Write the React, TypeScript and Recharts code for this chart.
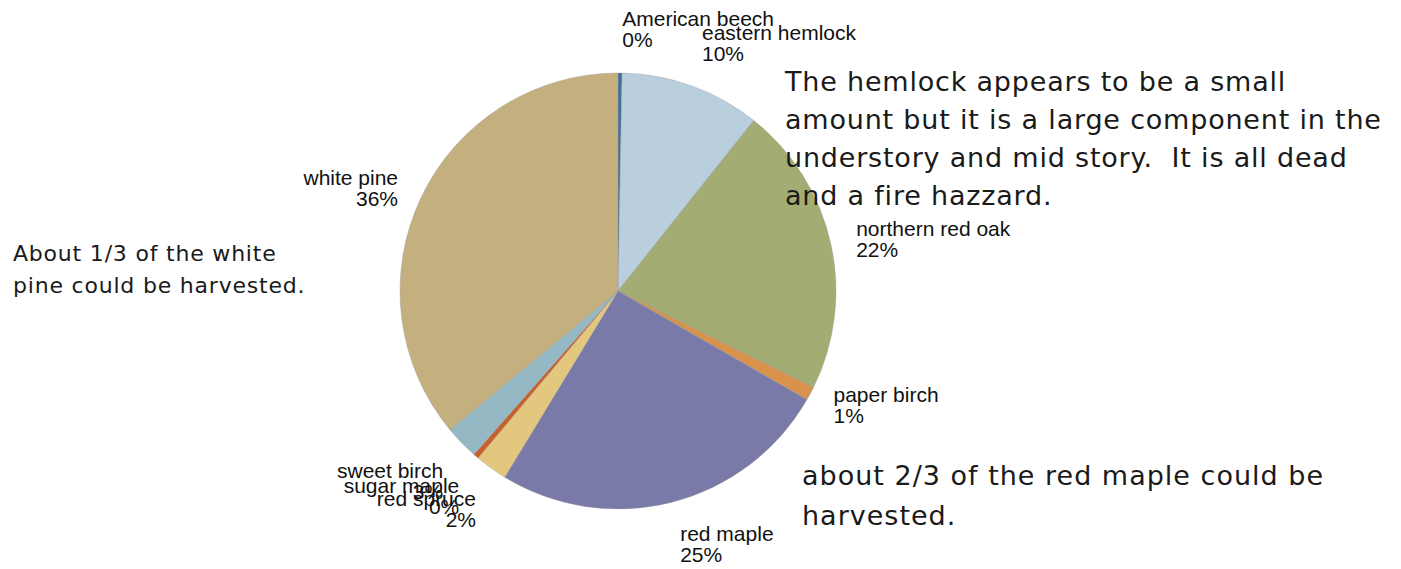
import { PieChart, Pie, Cell } from "recharts";

const species = [
  "American beech",
  "eastern hemlock",
  "northern red oak",
  "paper birch",
  "red maple",
  "red spruce",
  "sugar maple",
  "sweet birch",
  "white pine",
];
const shares = [0.3, 10.4, 21.6, 1.0, 25.4, 2.4, 0.4, 2.5, 36.0];
const colors = [
  "#3f7097",
  "#b9cfdd",
  "#a3ac72",
  "#d8924a",
  "#7a7aa9",
  "#e3c77f",
  "#c8602a",
  "#94b8c4",
  "#c4b07e",
];

const noteHemlock = [
  "The hemlock appears to be a small",
  "amount but it is a large component in the",
  "understory and mid story.  It is all dead",
  "and a fire hazzard.",
];
const notePine = ["About 1/3 of the white", "pine could be harvested."];
const noteMaple = ["about 2/3 of the red maple could be", "harvested."];

const data = species.map((name, i) => ({ name, value: shares[i] }));

const RAD = Math.PI / 180;

// label block: near corner sits on the ray, vertically centred when the ray is flat-ish
const renderLabel = (props: any) => {
  const { cx, cy, midAngle, outerRadius, name, value } = props;
  const r = outerRadius + 24;
  const down = Math.sin(-midAngle * RAD);
  const x = cx + r * Math.cos(-midAngle * RAD);
  const y = cy + r * down;
  const anchor = x > cx + 0.5 ? "start" : "end";
  const tx = anchor === "start" ? x + 2 : x - 1;
  const k = Math.min(1, Math.max(0, (Math.abs(down) - 0.5) / 0.15));
  const center = y + Math.sign(down) * 21 * k;
  const shift = down > 0.9 ? 0 : 2.5;
  return (
    <text
      x={tx}
      y={center - 5 + shift}
      textAnchor={anchor}
      fontFamily="Liberation Sans, Arial, sans-serif"
      fontSize={21}
      fill="#111"
    >
      <tspan x={tx} dy={0}>
        {name}
      </tspan>
      <tspan x={tx} dy={21}>
        {Math.round(value) + "%"}
      </tspan>
    </text>
  );
};

const noteStyle = (
  left: number,
  top: number,
  size: number,
  lh: number,
  ls: number
): React.CSSProperties => ({
  position: "absolute",
  left,
  top,
  fontFamily: "DejaVu Sans, sans-serif",
  fontSize: size,
  lineHeight: lh + "px",
  letterSpacing: ls,
  color: "#1a1a1a",
  whiteSpace: "pre",
});

export default function App() {
  return (
    <div
      style={{
        position: "absolute",
        left: 0,
        top: 0,
        width: 1401,
        height: 569,
        background: "#fff",
        overflow: "hidden",
      }}
    >
      <PieChart width={1401} height={569} style={{ position: "absolute", left: 0, top: 0 }}>
        <Pie
          data={data}
          dataKey="value"
          nameKey="name"
          cx={613}
          cy={286}
          outerRadius={218}
          startAngle={90}
          endAngle={-270}
          stroke="#9a9a9a"
          strokeWidth={0.4}
          label={renderLabel}
          labelLine={false}
          isAnimationActive={false}
        >
          {data.map((d, i) => (
            <Cell key={d.name} fill={colors[i]} />
          ))}
        </Pie>
      </PieChart>
      <div style={noteStyle(785, 63, 27, 38, 0.8)}>
        {noteHemlock.map((l) => (
          <div key={l}>{l}</div>
        ))}
      </div>
      <div style={noteStyle(13, 238, 22, 32, 0.8)}>
        {notePine.map((l) => (
          <div key={l}>{l}</div>
        ))}
      </div>
      <div style={noteStyle(802, 456, 27, 40, 1.0)}>
        {noteMaple.map((l) => (
          <div key={l}>{l}</div>
        ))}
      </div>
    </div>
  );
}
